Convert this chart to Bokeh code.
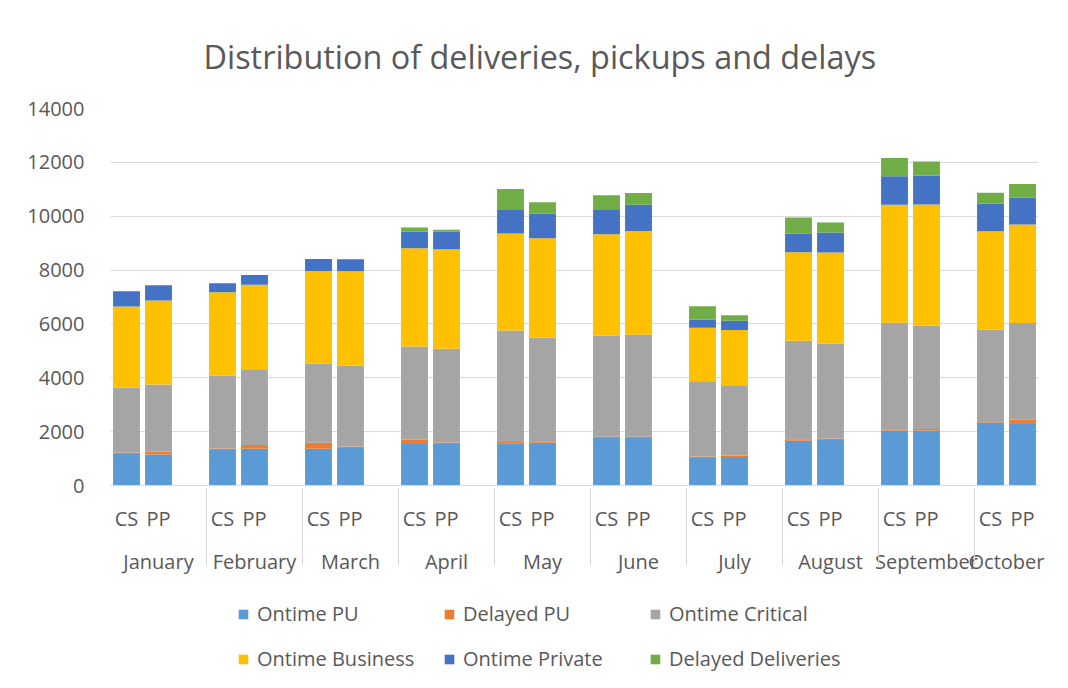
from bokeh.plotting import figure
from bokeh.models import ColumnDataSource, FactorRange, FixedTicker, Legend
from bokeh.layouts import column
from bokeh.embed import file_html
from bokeh.resources import INLINE

months = ["January", "February", "March", "April", "May", "June",
          "July", "August", "September", "October"]
services = ["CS", "PP"]

series_names = ["Ontime PU", "Delayed PU", "Ontime Critical",
                "Ontime Business", "Ontime Private", "Delayed Deliveries"]
colors = ["#5B9BD5", "#ED7D31", "#A5A5A5", "#FFC000", "#4472C4", "#70AD47"]

# values in order: Jan CS, Jan PP, Feb CS, Feb PP, ...
ontime_pu = [1170, 1150, 1315, 1365, 1365, 1390, 1540, 1540, 1565, 1590,
             1760, 1760, 1020, 1055, 1665, 1690, 2035, 2035, 2320, 2285]
delayed_pu = [60, 110, 60, 135, 225, 60, 160, 60, 50, 50,
              50, 50, 60, 60, 50, 60, 50, 60, 25, 160]
ontime_critical = [2400, 2495, 2705, 2790, 2940, 3005, 3460, 3475, 4145, 3845,
                   3760, 3785, 2790, 2580, 3660, 3510, 3960, 3835, 3450, 3585]
ontime_business = [3015, 3115, 3100, 3165, 3440, 3500, 3650, 3700, 3600, 3700,
                   3760, 3860, 1985, 2075, 3290, 3390, 4380, 4505, 3650, 3660]
ontime_private = [570, 570, 335, 360, 445, 445, 620, 660, 895, 920,
                  930, 970, 300, 345, 695, 745, 1055, 1080, 1020, 1005]
delayed_deliveries = [0, 0, 0, 0, 0, 0, 150, 60, 755, 410,
                      520, 435, 500, 210, 595, 375, 685, 520, 410, 500]

y_ticks = [0, 2000, 4000, 6000, 8000, 10000, 12000, 14000]

x = [(m, s) for m in months for s in services]
# the source sheet has an empty row after each month except the last
factors = []
for i, m in enumerate(months):
    factors += [(m, "CS"), (m, "PP")]
    if i < len(months) - 1:
        factors.append((m, " "))

keys = ["s0", "s1", "s2", "s3", "s4", "s5"]
data = dict(x=x, s0=ontime_pu, s1=delayed_pu, s2=ontime_critical,
            s3=ontime_business, s4=ontime_private, s5=delayed_deliveries)
source = ColumnDataSource(data)

FONT = "Open Sans"
TXT = "#595959"
GRID = "#D9D9D9"

p = figure(x_range=FactorRange(*factors, group_padding=0, factor_padding=0, range_padding=0),
           y_range=(0, 14000), frame_width=928, frame_height=377,
           output_backend="svg", toolbar_location=None,
           min_border_left=110, min_border_right=29, min_border_top=108,
           min_border_bottom=95)

renderers = p.vbar_stack(keys, x="x", width=0.84, color=colors, line_color=None,
                         source=source)

p.title.text = "Distribution of deliveries, pickups and delays"
p.title.align = "left"
p.title.offset = 93
p.title.text_font = FONT
p.title.text_font_size = "32.4px"
p.title.text_font_style = "normal"
p.title.text_color = TXT
p.title.standoff = 62

p.outline_line_color = None
p.xgrid.grid_line_color = None
p.ygrid.grid_line_color = GRID
p.ygrid.grid_line_width = 1

p.yaxis.ticker = FixedTicker(ticks=y_ticks)
p.yaxis.axis_line_color = None
p.yaxis.major_tick_line_color = None
p.yaxis.minor_tick_line_color = None
p.yaxis.major_label_text_font = FONT
p.yaxis.major_label_text_font_size = "20px"
p.yaxis.major_label_text_color = TXT
p.yaxis.major_label_standoff = 20

xa = p.xaxis[0]
xa.axis_line_color = GRID
xa.major_tick_line_color = None
xa.minor_tick_line_color = None
xa.major_label_text_font = FONT
xa.major_label_text_font_size = "20px"
xa.major_label_text_color = TXT
xa.major_label_standoff = 13
xa.group_text_font = FONT
xa.group_text_font_size = "20px"
xa.group_text_color = TXT
xa.group_text_font_style = "normal"
xa.separator_line_color = GRID
xa.separator_line_width = 1

# legend lives in its own strip under the chart; zero-height swatch renderers
lg = figure(width=1067, height=108, output_backend="svg", toolbar_location=None,
            x_axis_location=None, y_axis_location=None, min_border=0)
lg.outline_line_color = None
for g in lg.grid:
    g.visible = False
swatches = [lg.vbar(x=[0], top=[0], width=0.8, color=c, line_color=None) for c in colors]

legend = Legend(items=[(n, [r]) for n, r in zip(series_names, swatches)],
                location=(127, 11), orientation="horizontal", ncols=3,
                label_text_font=FONT, label_text_font_size="20px",
                label_text_color=TXT, glyph_width=12, glyph_height=12,
                label_standoff=8, spacing=8, label_height=37, label_width=178,
                padding=0, margin=0, border_line_color=None,
                background_fill_alpha=0)
lg.add_layout(legend, "center")

layout = column(p, lg, spacing=0)

open("out.html", "w").write(file_html(layout, INLINE))
